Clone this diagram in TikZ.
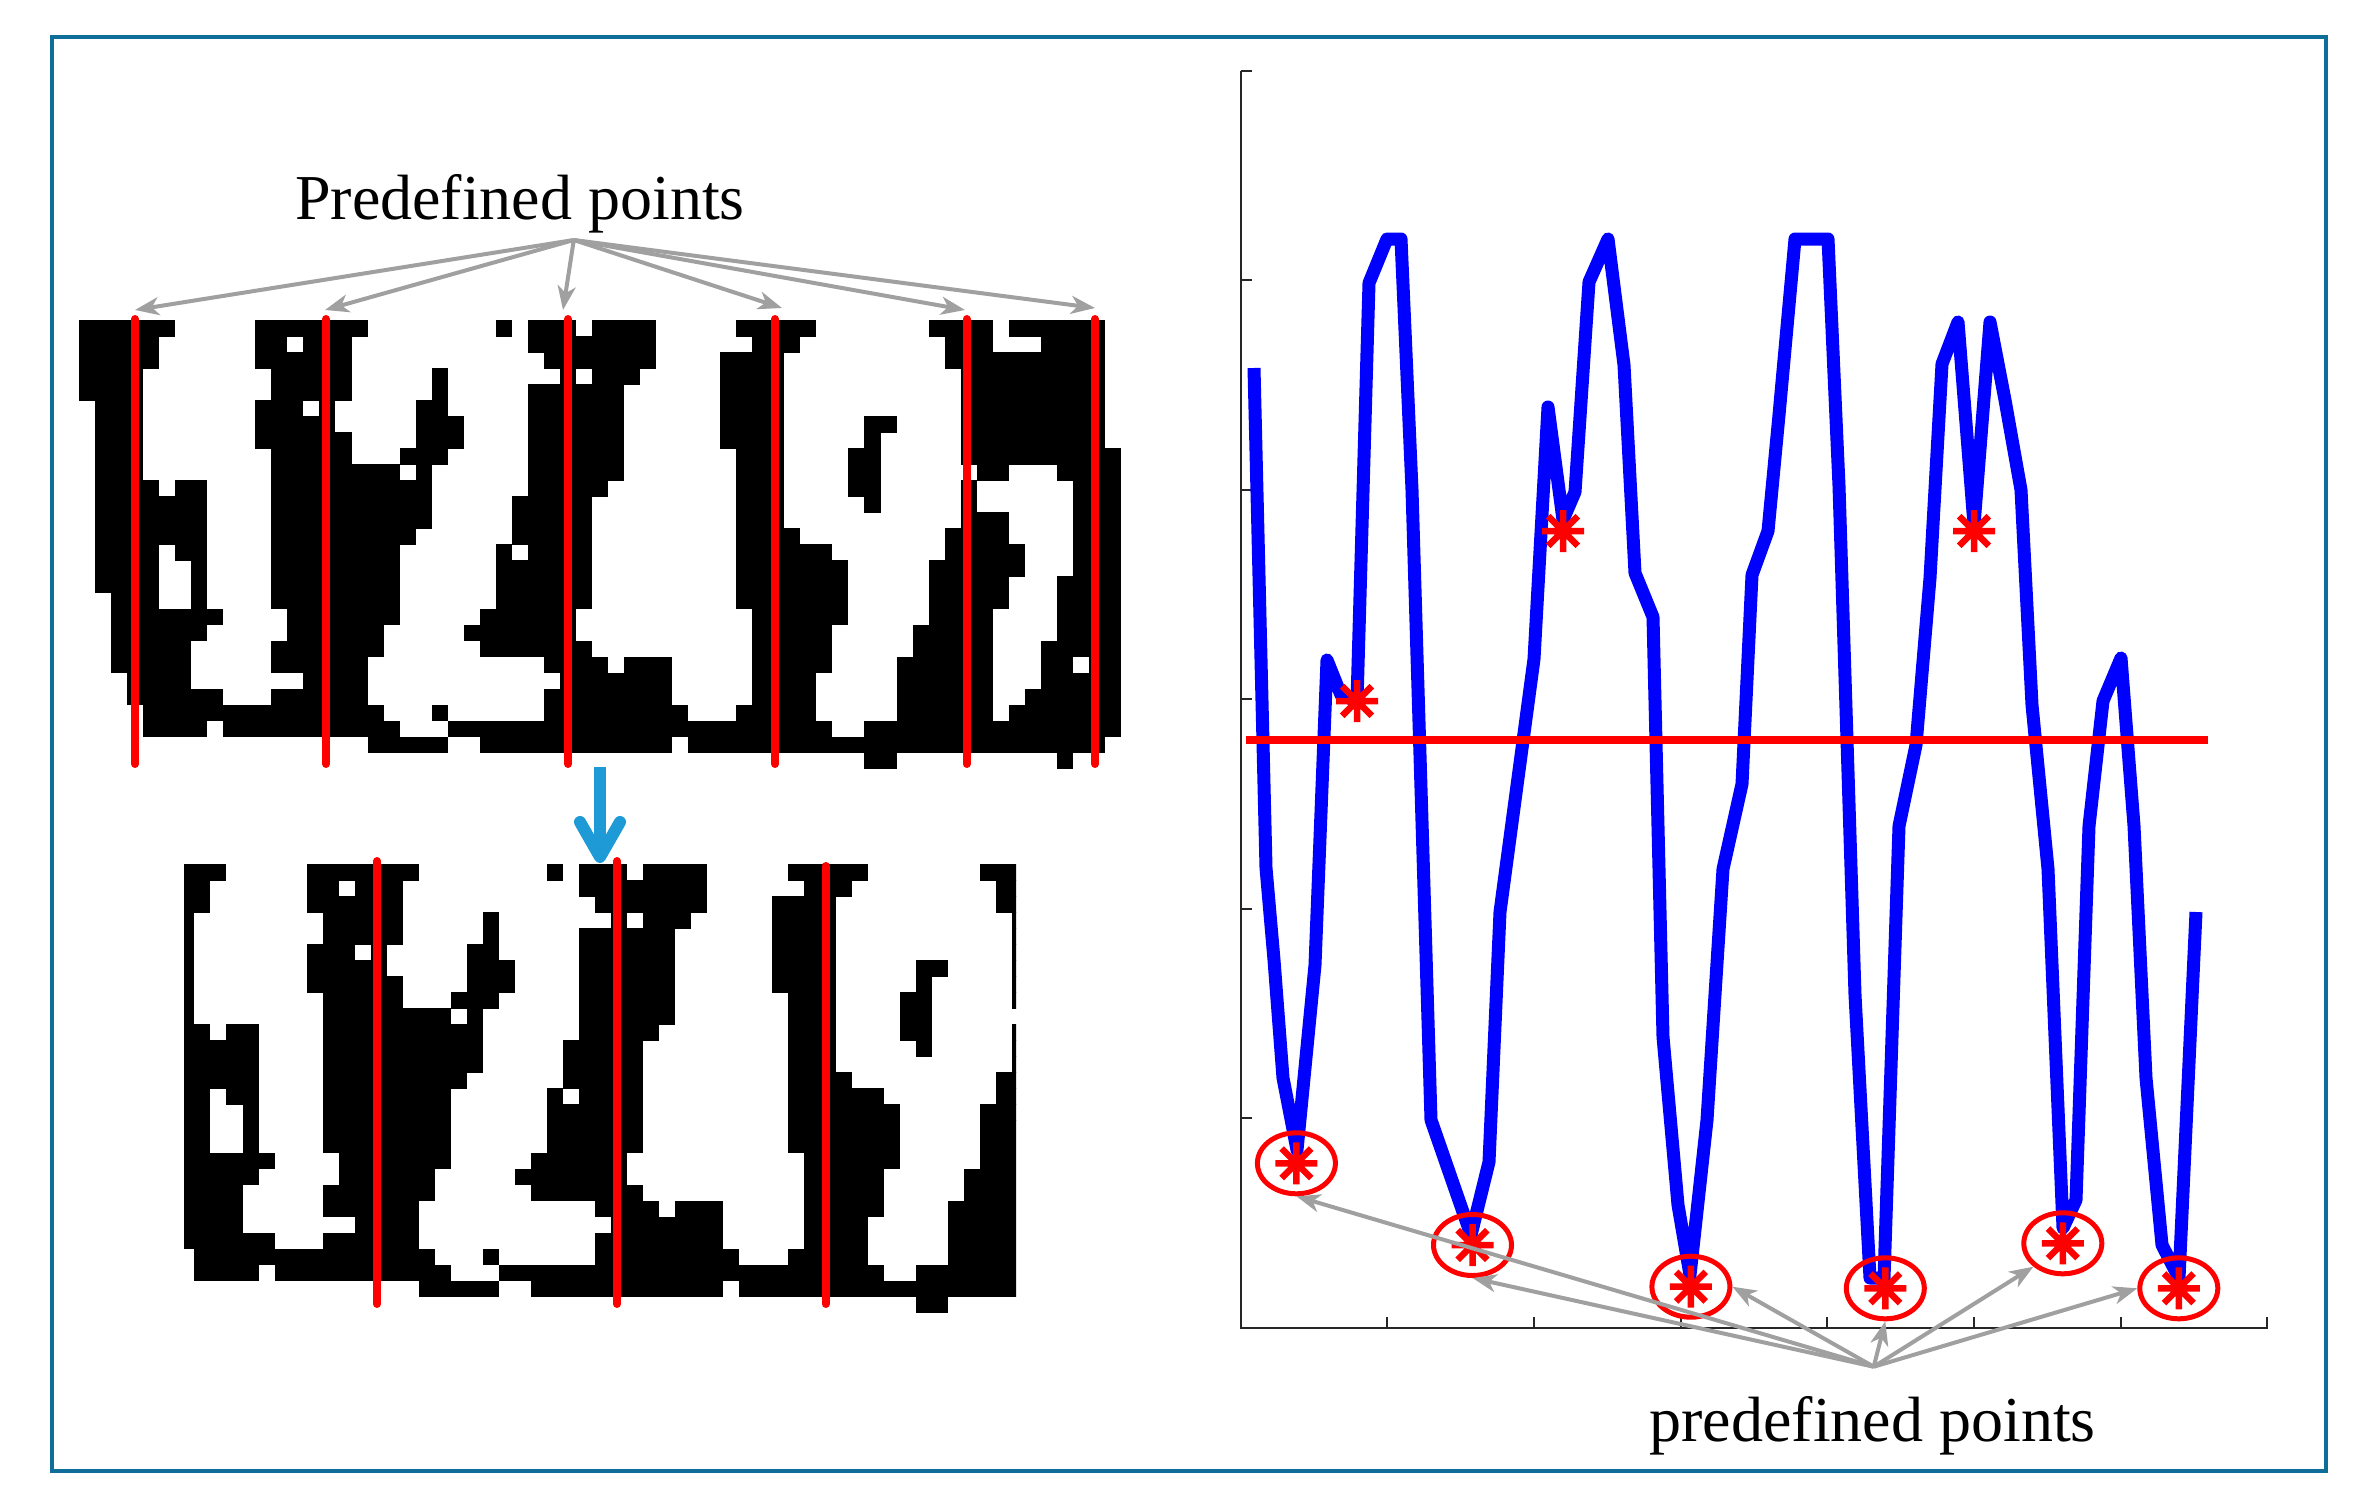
\documentclass[tikz,border=0pt]{standalone}
\usepackage{fontspec}
\setmainfont{Liberation Serif}
\usetikzlibrary{arrows.meta,shapes.geometric}
\definecolor{frameblue}{HTML}{0F6E99}
\definecolor{arrowgray}{HTML}{A0A0A0}
\definecolor{cyanarrow}{HTML}{1E9BD7}
\definecolor{pureblue}{HTML}{0000FF}
\definecolor{purered}{HTML}{FF0000}

\def\bitmap{%
0/{0/5,11/17,26/26,28/30,32/35,41/45,53/56,58/63},%
1/{0/4,11/12,14/16,28/35,42/44,54/56,60/63},%
2/{0/4,11/16,29/35,40/43,54/63},%
3/{0/3,12/16,22/22,30/30,32/34,40/43,55/63},%
4/{0/3,12/16,22/22,28/33,40/43,55/63},%
5/{1/3,11/13,15/15,21/22,28/33,40/43,55/63},%
6/{1/3,11/15,21/23,28/33,40/43,49/50,55/63},%
7/{1/3,11/16,21/23,28/33,40/43,49/49,55/63},%
8/{1/3,12/16,20/22,28/33,41/43,48/49,55/64},%
9/{1/3,12/19,21/21,28/33,41/43,48/49,56/57,61/64},%
10/{1/4,6/7,12/21,28/32,41/43,48/49,55/55,62/64},%
11/{1/7,12/21,27/31,41/43,49/49,55/55,62/64},%
12/{1/7,12/21,27/31,41/43,55/57,62/64},%
13/{1/7,12/20,27/31,41/44,54/57,62/64},%
14/{1/4,6/7,12/19,26/26,28/31,41/46,54/58,62/64},%
15/{1/4,7/7,12/19,26/31,41/47,53/58,62/64},%
16/{1/4,7/7,12/19,26/31,41/47,53/57,61/64},%
17/{2/4,7/7,12/19,26/31,41/47,53/57,61/64},%
18/{2/8,13/19,25/30,42/47,53/56,61/64},%
19/{2/7,13/18,24/30,42/46,52/56,61/64},%
20/{2/6,12/18,25/31,42/46,52/56,60/64},%
21/{2/6,12/17,29/32,34/36,42/46,51/56,60/61,63/64},%
22/{3/6,14/17,30/36,42/45,51/56,60/64},%
23/{3/8,12/17,29/36,42/45,51/56,59/64},%
24/{4/18,22/22,29/37,41/45,51/56,58/64},%
25/{4/7,9/19,23/46,49/64},%
26/{18/22,25/36,38/63},%
27/{49/50,61/61}}

\newcommand\drawbitmap[2]{%
  \foreach \r/\runs in \bitmap {%
    \foreach \a/\b in \runs {%
      \fill[black] ({#1+\a*16.03},{#2+\r*16.03}) rectangle ({#1+(\b+1)*16.03},{#2+(\r+1)*16.03+0.6});
    }%
  }%
}

\tikzset{
  redseg/.style={draw=purered, line width=8pt, line cap=round},
  garrow/.style={draw=arrowgray, line width=4pt, -{Stealth[length=24pt,width=18pt,inset=7pt]}},
  ring/.style={ellipse, draw=purered, line width=5pt, minimum width=78pt, minimum height=61pt, inner sep=0pt},
  blueline/.style={draw=pureblue, line width=13pt, line join=round, line cap=butt},
  axisline/.style={draw=black!85, line width=2pt},
  label/.style={font=\fontsize{64}{64}\selectfont, anchor=base, inner sep=0pt},
  asterisk/.pic={\draw[purered, line width=6.5pt] (-21,0)--(21,0) (0,-21)--(0,21) (-14.8,-14.8)--(14.8,14.8) (-14.8,14.8)--(14.8,-14.8);}
}

\begin{document}
\begin{tikzpicture}[x=1pt, y=-1pt]
\useasboundingbox (0,0) rectangle (2364,1512);
\fill[white] (0,0) rectangle (2364,1512);

% frame
\draw[frameblue, line width=4pt] (52,37) rectangle (2326,1471);

% top binary image
\drawbitmap{79}{320}
% bottom binary image (cropped copy)
\begin{scope}
  \clip (184,864) rectangle (1016,1313);
  \drawbitmap{130.3}{864}
\end{scope}

% red segmentation lines, top
\foreach \x in {135,326,568,775,966.5,1095}
  \draw[redseg] (\x,319) -- (\x,764);
% red segmentation lines, bottom
\foreach \x in {377,617}
  \draw[redseg] (\x,861) -- (\x,1304);
\draw[redseg] (825.5,866) -- (825.5,1304);

% cyan arrow
\coordinate (cya) at (600,767);
\coordinate (cyb) at (600,855);
\draw[cyanarrow, line width=12.5pt] (cya) -- (cyb);
\draw[cyanarrow, line width=12pt, line cap=round, line join=round] (580,822) -- (600,857) -- (620,822);

% top label and arrows
\node[label] (ptop) at (520,219) {Predefined points};
\coordinate (po) at (573.8,240);
\coordinate (ta1) at (135,310);
\coordinate (ta2) at (325,310);
\coordinate (ta3) at (563,310);
\coordinate (ta4) at (782,308);
\coordinate (ta5) at (965,310);
\coordinate (ta6) at (1095,308);
\foreach \t in {ta1,ta2,ta3,ta4,ta5,ta6}
  \draw[garrow] (po) -- (\t);

% plot axes
\coordinate (orig) at (1240.5,1327.7);
\coordinate (xend) at (2267.5,1327.7);
\coordinate (yend) at (1240.5,70.6);
\draw[axisline] (yend) -- (orig) -- (xend);
\foreach \k in {1,...,7}
  \draw[axisline] ({1240.5+\k*146.71},1327.7) -- ({1240.5+\k*146.71},1316.7);
\foreach \k in {1,...,6}
  \draw[axisline] (1240.5,{1327.7-\k*209.52}) -- (1251.5,{1327.7-\k*209.52});

% blue curve
\draw[blueline] (1254,368) -- (1266,868) -- (1274,960) -- (1283,1078) -- (1297,1150)
  -- (1315,965) -- (1327,660) -- (1341,695) -- (1357,701) -- (1369,283) -- (1387,239)
  -- (1401,239) -- (1412,490) -- (1431,1120) -- (1471,1235) -- (1489,1162) -- (1500,912)
  -- (1534,659) -- (1548,407) -- (1563,520) -- (1575,492) -- (1589,282) -- (1608,239)
  -- (1624,365) -- (1635,573) -- (1653,617) -- (1663,1037) -- (1678,1205) -- (1690,1275)
  -- (1707,1120) -- (1723,869) -- (1742,784) -- (1752,575) -- (1768,531) -- (1779,415)
  -- (1795,239) -- (1828,239) -- (1839,486) -- (1855,995) -- (1870,1278) -- (1884,1278)
  -- (1899,826) -- (1916,745) -- (1930,578) -- (1942,364) -- (1958,322) -- (1974,525)
  -- (1990,322) -- (2005,400) -- (2021,490) -- (2032,705) -- (2048,869) -- (2063,1228)
  -- (2076,1200) -- (2089,826) -- (2103,701) -- (2121,658) -- (2134,826) -- (2146,1078)
  -- (2162,1245) -- (2179,1278) -- (2196,912);

% red threshold line
\coordinate (thl) at (1246,740.3);
\coordinate (thr) at (2208,740.3);
\draw[draw=purered, line width=8pt] (thl) -- (thr);

% free asterisks
\pic at (1357,701) {asterisk};
\pic at (1563,531) {asterisk};
\pic at (1974,531) {asterisk};

% circled predefined points
\node[ring] (c1) at (1296.4,1163.3) {};
\node[ring] (c2) at (1472.5,1245) {};
\node[ring] (c3) at (1690.9,1286.7) {};
\node[ring] (c4) at (1885.3,1288.3) {};
\node[ring] (c5) at (2062.8,1243.3) {};
\node[ring] (c6) at (2178.8,1288.3) {};
\foreach \c in {c1,c2,c3,c4,c5,c6}
  \pic at (\c) {asterisk};

% bottom label and arrows
\node[label] (pbot) at (1872.7,1441.7) {predefined points};
\coordinate (qo) at (1873.7,1366.7);
\draw[garrow] (qo) -- (c1.south);
\draw[garrow] (qo) -- (c2.south);
\draw[garrow] (qo) -- (c3.east);
\draw[garrow] (qo) -- (c4.south);
\draw[garrow] (qo) -- (c5.south west);
\draw[garrow] (qo) -- (c6.west);
\end{tikzpicture}
\end{document}
